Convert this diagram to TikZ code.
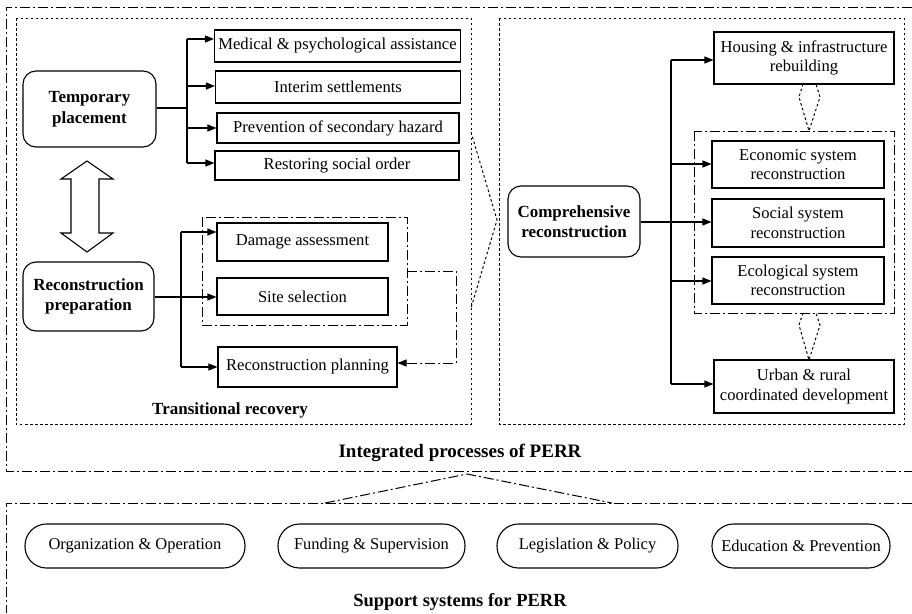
\documentclass[tikz,border=0pt]{standalone}
\usepackage{fontspec}
\setmainfont{Liberation Serif}
\usetikzlibrary{arrows.meta}
\tikzset{
  ln/.style={line width=1.1pt},
  box/.style={draw, line width=1.1pt, inner sep=0pt, align=center, font=\fontsize{16.6}{19.5}\selectfont},
  rbox/.style={draw, line width=1.1pt, inner sep=0pt, align=center, rounded corners=13pt, font=\bfseries\fontsize{17}{20.5}\selectfont},
  pill/.style={draw, line width=1.1pt, inner sep=0pt, align=center, rounded corners=21.5pt, minimum height=44pt, font=\fontsize{16.5}{19}\selectfont},
  title/.style={inner sep=0pt, font=\bfseries\fontsize{17}{20}\selectfont},
  arr/.style={line width=1.1pt, -{Triangle[length=9pt,width=7pt]}},
  dashdot/.style={line width=1pt, dash pattern=on 10pt off 3pt on 2pt off 3pt},
  dotbox/.style={line width=1pt, dash pattern=on 2.5pt off 2.5pt},
}
\begin{document}
\begin{tikzpicture}[x=1pt,y=-1pt]
\useasboundingbox (0,0) rectangle (912,613);

% outer frames
\draw[dashdot] (912,7) -- (6,7) -- (6,471) -- (912,471);
\draw[dashdot] (912,503) -- (6,503) -- (6,613);
\draw[dashdot] (325,503) -- (467,474) -- (612,503);

\draw[dotbox] (16,18) rectangle (471,424);
\draw[dotbox] (499,18) rectangle (904,424);

% Temporary placement
\node[rbox, minimum width=133pt, minimum height=76pt] (tp) at (89.5,109) {Temporary\\placement};
\node[box, minimum width=246pt, minimum height=32pt] (med) at (337.5,46) {Medical \& psychological assistance};
\node[box, minimum width=245pt, minimum height=32pt] (int) at (338,87) {Interim settlements};
\node[box, minimum width=242pt, minimum height=30pt] (prev) at (338,128) {Prevention of secondary hazard};
\node[box, minimum width=244pt, minimum height=29pt] (rest) at (337,165.5) {Restoring social order};

\coordinate (ta) at (187,39);
\coordinate (tb) at (187,86);
\coordinate (tc) at (187,128);
\coordinate (td) at (187,163);
\draw[ln] (tp.east |- 0,108) -- (187,108);
\draw[ln] (ta) -- (td);
\draw[arr] (ta) -- (ta -| med.west);
\draw[arr] (tb) -- (tb -| int.west);
\draw[arr] (tc) -- (tc -| prev.west);
\draw[arr] (td) -- (td -| rest.west);

% double arrow
\draw[ln] (87,161) -- (113,179) -- (99,179) -- (99,233) -- (113,233) -- (87,252) -- (61,233) -- (71,233) -- (71,179) -- (61,179) -- cycle;

% Reconstruction preparation
\node[rbox, minimum width=131pt, minimum height=69pt] (rp) at (88.5,296.5) {Reconstruction\\preparation};
\draw[dashdot] (202,217) rectangle (407,325);
\coordinate (grpL) at (407,271);
\node[box, minimum width=171pt, minimum height=38pt] (dmg) at (302.5,242) {Damage assessment};
\node[box, minimum width=171pt, minimum height=37pt] (site) at (302.5,296.5) {Site selection};
\node[box, minimum width=179pt, minimum height=40pt] (plan) at (307.5,367) {Reconstruction planning};

\coordinate (ra) at (181,232);
\coordinate (rb) at (181,367);
\draw[ln] (ra) -- (rb);
\draw[arr] (ra) -- (ra -| dmg.west);
\draw[arr] (rb) -- (plan.west);
\draw[arr] (rp.east |- 0,297) -- (site.west |- 0,297);
\draw[dashdot, -{Triangle[length=9pt,width=7pt]}] (grpL) -- (456,271) -- (456,363) -- (plan.east |- 0,363);

\node[title] (tr) at (230,410) {Transitional recovery};

% zoom chevron
\draw[dotbox] (471,132) -- (497,220) -- (471,308);

% Comprehensive reconstruction
\node[rbox, minimum width=132pt, minimum height=71pt] (cr) at (574,221.5) {Comprehensive\\reconstruction};
\node[box, minimum width=180pt, minimum height=52pt] (house) at (804,58) {Housing \& infrastructure\\rebuilding};
\draw[dashdot] (694,131) rectangle (894,313);
\node[box, minimum width=172pt, minimum height=47pt] (econ) at (798,164.5) {Economic system\\reconstruction};
\node[box, minimum width=172pt, minimum height=48pt] (soc) at (798,223) {Social system\\reconstruction};
\node[box, minimum width=172pt, minimum height=47pt] (eco) at (798,280.5) {Ecological system\\reconstruction};
\node[box, minimum width=180pt, minimum height=53pt] (urb) at (804,386.5) {Urban \& rural\\coordinated development};

\coordinate (ca) at (671,60);
\coordinate (cb) at (671,164);
\coordinate (cc) at (671,281);
\coordinate (cd) at (671,384);
\draw[ln] (ca) -- (cd);
\draw[arr] (ca) -- (ca -| house.west);
\draw[arr] (cb) -- (cb -| econ.west);
\draw[arr] (cr.east |- 0,222) -- (soc.west |- 0,222);
\draw[arr] (cc) -- (cc -| eco.west);
\draw[arr] (cd) -- (cd -| urb.west);

% small dotted pointers
\draw[dotbox] (803,84) -- (799,97) -- (809,131) -- (820,97) -- (816,84);
\draw[dotbox] (803,313) -- (799,325) -- (809,360) -- (820,325) -- (816,313);

\node[title, font=\bfseries\fontsize{19}{22}\selectfont] (ip) at (460,453) {Integrated processes of PERR};

% support systems
\node[pill, minimum width=220pt] (org) at (135,546) {Organization \& Operation};
\node[pill, minimum width=187pt] (fund) at (371.5,546) {Funding \& Supervision};
\node[pill, minimum width=181pt] (leg) at (587.5,546) {Legislation \& Policy};
\node[pill, minimum width=178pt] (edu) at (801,546) {Education \& Prevention};
\node[title, font=\bfseries\fontsize{18.5}{22}\selectfont] (ss) at (460,602) {Support systems for PERR};
\end{tikzpicture}
\end{document}
